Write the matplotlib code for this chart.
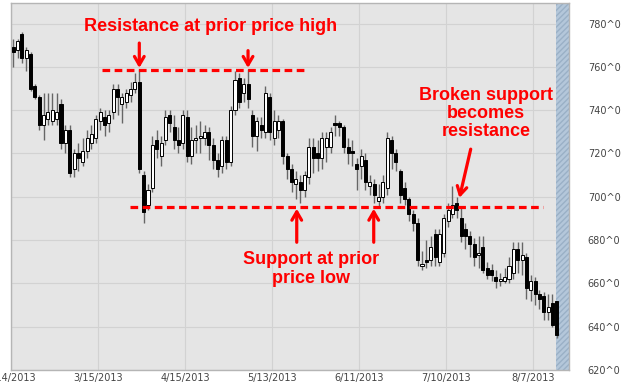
import numpy as np
import matplotlib
matplotlib.use('Agg')
import matplotlib.pyplot as plt

# daily OHLC (one bar per trading day, 2/14/2013 .. 8/14/2013)
opens = [769, 768, 775, 764, 766, 751, 746, 733, 736, 735, 736, 743, 725, 731, 713, 720,
         716, 721, 725, 727, 735, 737, 734, 739, 750, 743, 744, 747, 750, 753, 710, 696,
         704, 726, 719, 726, 738, 732, 726, 725, 737, 719, 726, 727, 727, 730, 724, 717,
         714, 726, 716, 740, 755, 748, 752, 738, 728, 733, 730, 746, 727, 731, 735, 719,
         713, 706, 707, 703, 709, 723, 720, 718, 723, 723, 734, 734, 732, 723, 721, 715,
         714, 717, 705, 706, 698, 700, 704, 726, 720, 712, 704, 699, 692, 688, 668, 671,
         671, 683, 670, 674, 689, 692, 697, 690, 685, 682, 678, 673, 677, 667, 666, 663,
         661, 661, 662, 665, 676, 671, 672, 657, 661, 655, 654, 647, 651, 652]
highs = [773, 773, 776, 769, 767, 752, 747, 748, 748, 748, 748, 745, 733, 733, 722, 725,
         727, 731, 733, 738, 741, 740, 740, 752, 752, 748, 750, 753, 757, 759, 712, 706,
         728, 731, 728, 740, 740, 738, 732, 740, 740, 732, 733, 735, 733, 732, 727, 720,
         728, 728, 742, 758, 757, 755, 759, 740, 737, 737, 751, 748, 740, 738, 736, 720,
         715, 712, 710, 712, 727, 727, 726, 730, 730, 732, 738, 735, 733, 727, 726, 718,
         722, 720, 710, 708, 706, 710, 730, 728, 722, 713, 707, 700, 694, 690, 675, 680,
         682, 685, 685, 692, 697, 705, 700, 695, 688, 684, 681, 682, 682, 670, 669, 666,
         665, 667, 672, 679, 679, 679, 674, 664, 663, 657, 656, 655, 655, 652]
lows = [760, 764, 762, 758, 749, 745, 731, 726, 733, 733, 733, 722, 720, 709, 709, 712,
        714, 718, 722, 725, 731, 728, 730, 736, 738, 734, 741, 744, 748, 711, 688, 694,
        702, 718, 714, 724, 730, 722, 720, 722, 716, 715, 720, 720, 724, 717, 713, 709,
        711, 713, 714, 738, 741, 744, 741, 723, 721, 727, 727, 726, 724, 727, 715, 708,
        702, 699, 697, 700, 706, 711, 712, 713, 716, 720, 728, 728, 720, 715, 714, 703,
        708, 703, 701, 697, 695, 697, 701, 713, 712, 697, 696, 689, 684, 668, 666, 667,
        668, 668, 668, 672, 686, 690, 690, 679, 676, 672, 668, 667, 665, 662, 661, 658,
        659, 660, 660, 662, 665, 664, 653, 652, 650, 648, 643, 643, 640, 635]
closes = [767, 772, 764, 768, 750, 746, 733, 738, 739, 740, 739, 725, 731, 711, 720, 718,
          721, 727, 729, 736, 739, 733, 738, 750, 746, 746, 748, 750, 753, 713, 693, 703,
          724, 722, 725, 737, 734, 726, 724, 738, 719, 726, 727, 728, 730, 724, 717, 713,
          726, 716, 740, 754, 744, 752, 745, 728, 735, 731, 748, 730, 735, 735, 719, 713,
          707, 708, 703, 710, 723, 718, 718, 727, 727, 730, 733, 732, 723, 720, 720, 713,
          719, 707, 707, 701, 700, 707, 727, 720, 716, 701, 699, 692, 688, 671, 669, 670,
          677, 672, 683, 690, 694, 696, 694, 682, 682, 678, 672, 674, 666, 664, 664, 661,
          662, 663, 668, 676, 671, 673, 658, 661, 655, 653, 647, 649, 641, 636]

tick_labels = ['2/14/2013', '3/15/2013', '4/15/2013', '5/13/2013',
               '6/11/2013', '7/10/2013', '8/7/2013']
price_ticks = [620, 640, 660, 680, 700, 720, 740, 760, 780]

o = np.array(opens)
h = np.array(highs)
l = np.array(lows)
c = np.array(closes)
idx = np.arange(len(o))
up = c >= o

fig = plt.figure(figsize=(6.24, 3.9), dpi=100)
ax = fig.add_axes([11 / 624, 1 - 370 / 390, 558 / 624, 367 / 390])
ax.set_facecolor('#e5e5e5')

ax.set_xlim(-0.5, 127.8)
ax.set_ylim(620, 789.5)

# shaded strip at the right end
ax.axvspan(124.8, 127.8, facecolor='#b4c7da', edgecolor='#9ab0c6', hatch='//////', lw=0, zorder=1)

# candles
ax.vlines(idx, l, h, color='#666666', lw=1, zorder=3)
bottom = np.minimum(o, c)
height = np.maximum(np.abs(c - o), 0.6)
ax.bar(idx[up], height[up], bottom=bottom[up], width=0.7, color='white',
       edgecolor='black', lw=0.7, zorder=4)
ax.bar(idx[~up], height[~up], bottom=bottom[~up], width=0.7, color='black',
       edgecolor='black', lw=0.7, zorder=4)

# axes styling
ax.set_xticks([20 * k - 0.5 for k in range(len(tick_labels))])
ax.set_xticklabels(tick_labels)
ax.set_yticks(price_ticks)
ax.set_yticklabels([f'{p}^0' for p in price_ticks])
ax.yaxis.tick_right()
ax.tick_params(axis='both', length=0, labelsize=7, labelcolor='#444444')
ax.tick_params(axis='y', pad=13.5)
ax.tick_params(axis='x', pad=2.5)
ax.grid(True, color='#d2d2d2', lw=0.8, zorder=0)
ax.set_axisbelow(True)
for s in ax.spines.values():
    s.set_color('#b5b5b5')
    s.set_linewidth(1)

red = '#ff0000'
dash = (2.4, 1.4)

# resistance / support lines
ax.plot([20.4, 66.9], [758.6, 758.6], color=red, lw=2.3, dashes=dash, zorder=5)
ax.plot([26.9, 121.8], [695.2, 695.2], color=red, lw=2.3, dashes=dash, zorder=5)

arrow = dict(arrowstyle='->,head_length=0.6,head_width=0.35', color=red, lw=2.3,
             shrinkA=0, shrinkB=0)
ax.annotate('', xy=(29, 759.5), xytext=(29, 771), arrowprops=arrow, zorder=6)
ax.annotate('', xy=(54, 759.5), xytext=(54, 767.5), arrowprops=arrow, zorder=6)
ax.annotate('', xy=(65.2, 694.5), xytext=(65.2, 679), arrowprops=arrow, zorder=6)
ax.annotate('', xy=(82.9, 694.5), xytext=(82.9, 679), arrowprops=arrow, zorder=6)
ax.annotate('', xy=(102.6, 699.5), xytext=(105.2, 722), arrowprops=arrow, zorder=6)

font = dict(color=red, fontsize=13, fontweight='bold', family='Liberation Sans',
            ha='center', va='center', zorder=7)
ax.text(45.5, 778.5, 'Resistance at prior price high', **font)
ax.text(68.5, 666.5, 'Support at prior\nprice low', linespacing=1.15, **font)
ax.text(108.7, 738.5, 'Broken support\nbecomes\nresistance', linespacing=1.1, **font)

fig.savefig('out.png', dpi=100)
